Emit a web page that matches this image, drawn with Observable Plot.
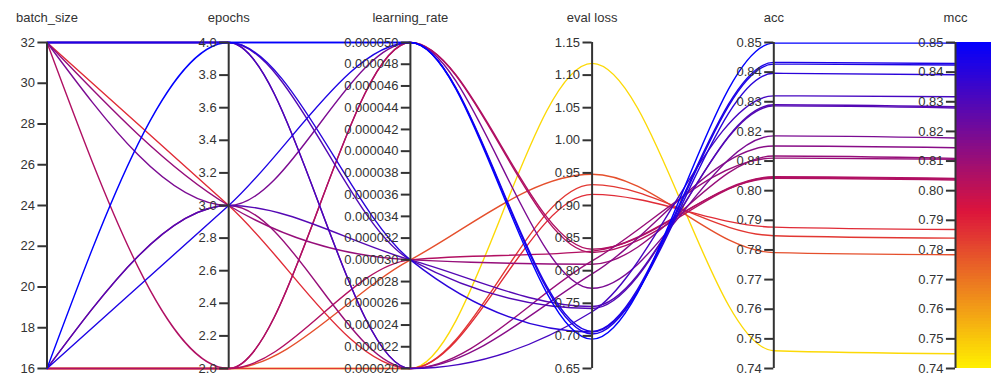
<!DOCTYPE html>
<html>
<head>
<meta charset="utf-8">
<script src="https://cdn.jsdelivr.net/npm/d3@7"></script>
<script src="https://cdn.jsdelivr.net/npm/@observablehq/plot@0.6"></script>
<style>
  html, body { margin: 0; padding: 0; background: #fff; }
  svg { font-family: "Liberation Sans", Arial, sans-serif; }
</style>
</head>
<body>
<div id="chart"></div>
<script>
// ---- data: one entry per run (drawn in this order) ----
const batchSize    = [16, 16, 16, 32, 16, 16, 32, 16, 32, 32, 32, 16, 32, 32, 32, 16, 32, 16];
const epochs       = [2, 2, 2, 3, 2, 2, 2, 3, 3, 4, 3, 3, 4, 4, 4, 3, 4, 4];
const learningRate = [0.00002, 0.00003, 0.00002, 0.00002, 0.00003, 0.00005, 0.00005, 0.00002, 0.00003,
                      0.00002, 0.00005, 0.00003, 0.00003, 0.00002, 0.00003, 0.00005, 0.00005, 0.00005];
const evalLoss     = [1.118, 0.948, 0.932, 0.917, 0.830, 0.828, 0.833, 0.815, 0.810,
                      0.795, 0.773, 0.745, 0.742, 0.737, 0.706, 0.703, 0.707, 0.695];
const acc          = [0.746, 0.7791, 0.7848, 0.7877, 0.8042, 0.8045, 0.8047, 0.8110, 0.8117,
                      0.8151, 0.8185, 0.8286, 0.8290, 0.8320, 0.8396, 0.8427, 0.8433, 0.8498];
const mcc          = [0.745, 0.7784, 0.7840, 0.7869, 0.8036, 0.8039, 0.8041, 0.8106, 0.8109,
                      0.8145, 0.8178, 0.8279, 0.8283, 0.8317, 0.8391, 0.8424, 0.8429, 0.8498];

// ---- axes ----
const dimNames = ["batch_size", "epochs", "learning_rate", "eval loss", "acc", "mcc"];
const dimDomains = [[16, 32], [2, 4], [0.00002, 0.00005], [0.65, 1.15], [0.74, 0.85], [0.74, 0.85]];
const batchTicks = [16, 18, 20, 22, 24, 26, 28, 30, 32];
const epochTicks = ["2.0", "2.2", "2.4", "2.6", "2.8", "3.0", "3.2", "3.4", "3.6", "3.8", "4.0"];
const lrTicks = ["0.000020", "0.000022", "0.000024", "0.000026", "0.000028", "0.000030", "0.000032",
                 "0.000034", "0.000036", "0.000038", "0.000040", "0.000042", "0.000044", "0.000046",
                 "0.000048", "0.000050"];
const lossTicks = ["0.65", "0.70", "0.75", "0.80", "0.85", "0.90", "0.95", "1.00", "1.05", "1.10", "1.15"];
const accTicks = ["0.74", "0.75", "0.76", "0.77", "0.78", "0.79", "0.80", "0.81", "0.82", "0.83", "0.84", "0.85"];
const mccTicks = accTicks;

const columns = [batchSize, epochs, learningRate, evalLoss, acc, mcc];
const tickSets = [batchTicks.map(String), epochTicks, lrTicks, lossTicks, accTicks, mccTicks];

const norm = dimDomains.map(d => d3.scaleLinear().domain(d).range([0, 1]));

const lineData = [];
mcc.forEach((m, r) => {
  columns.forEach((col, j) => {
    lineData.push({run: r, xi: j, y: norm[j](col[r]), mcc: m});
  });
});

const tickData = [];
tickSets.forEach((ts, j) => ts.forEach(label => {
  tickData.push({xi: j, y: norm[j](+label), label});
}));

const colorDomain = [0.74, 0.7925, 0.85];
const colorRange = ["#ffee00", "#dc143c", "#0000ff"];
const barSteps = d3.range(0, 110).map(k => 0.74 + k * 0.001);
const stripes = barSteps.map(v => ({v, y1: norm[5](v), y2: norm[5](Math.min(0.85, v + 0.0025))}));

const chart = Plot.plot({
  width: 991,
  height: 376,
  marginTop: 42,
  marginBottom: 8,
  marginLeft: 46.5,
  marginRight: 36,
  x: {domain: [0, 5], axis: null},
  y: {domain: [0, 1], axis: null},
  color: {type: "linear", domain: colorDomain, range: colorRange, interpolate: "rgb"},
  style: {fontFamily: "'Liberation Sans', Arial, sans-serif", background: "#fff"},
  marks: [
    Plot.rect(stripes, {x1: 5, x2: 5.2, y1: "y1", y2: "y2", fill: "v", shapeRendering: "crispEdges"}),
    Plot.line(lineData, {x: "xi", y: "y", z: "run", stroke: "mcc", curve: "monotone-x",
                         strokeWidth: 1.4}),
    Plot.ruleX(d3.range(6), {x: d => d, y1: 0, y2: 1, stroke: "#333", strokeWidth: 2}),
    Plot.ruleY(tickData, {y: "y", x1: d => d.xi - 0.05, x2: d => d.xi, stroke: "#333", strokeWidth: 2}),
    Plot.text(tickData, {x: "xi", y: "y", text: "label", textAnchor: "end", dx: -12,
                         fontSize: 13, fill: "#333"}),
    Plot.text(dimNames, {x: (d, i) => i, y: 1, text: d => d, dy: -25, fontSize: 13, fill: "#333"})
  ]
});
document.getElementById("chart").appendChild(chart);
</script>
</body>
</html>
